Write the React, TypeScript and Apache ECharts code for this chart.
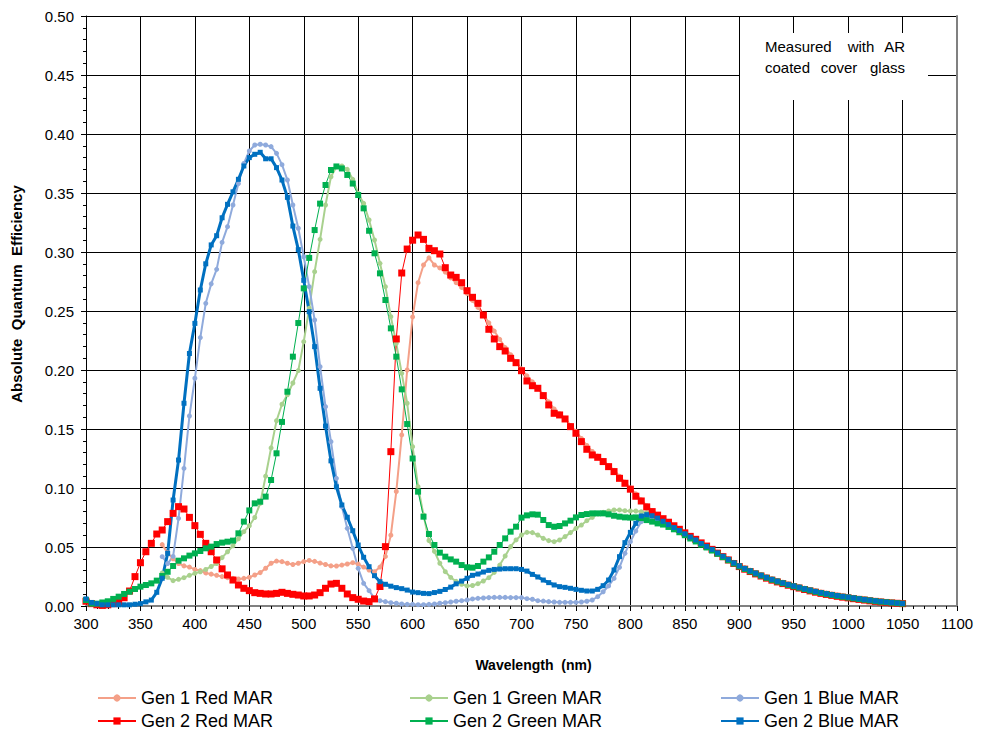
import React, { useEffect, useRef } from "react";
import * as echarts from "echarts";

const wavelengths = [
  300, 305, 310, 315, 320, 325, 330, 335, 340, 345,
  350, 355, 360, 365, 370, 375, 380, 385, 390, 395,
  400, 405, 410, 415, 420, 425, 430, 435, 440, 445,
  450, 455, 460, 465, 470, 475, 480, 485, 490, 495,
  500, 505, 510, 515, 520, 525, 530, 535, 540, 545,
  550, 555, 560, 565, 570, 575, 580, 585, 590, 595,
  600, 605, 610, 615, 620, 625, 630, 635, 640, 645,
  650, 655, 660, 665, 670, 675, 680, 685, 690, 695,
  700, 705, 710, 715, 720, 725, 730, 735, 740, 745,
  750, 755, 760, 765, 770, 775, 780, 785, 790, 795,
  800, 805, 810, 815, 820, 825, 830, 835, 840, 845,
  850, 855, 860, 865, 870, 875, 880, 885, 890, 895,
  900, 905, 910, 915, 920, 925, 930, 935, 940, 945,
  950, 955, 960, 965, 970, 975, 980, 985, 990, 995,
  1000, 1005, 1010, 1015, 1020, 1025, 1030, 1035, 1040, 1045,
  1050,
];

const N = null;

const gen1Red = [
  N, N, N, N, N, N, N, N, N, N,
  N, N, N, N, 0.052, 0.045, 0.04, 0.036, 0.034, 0.033,
  0.031, 0.03, 0.028, 0.027, 0.026, 0.0249, 0.024, 0.0234, 0.0229, 0.0234,
  0.0243, 0.0263, 0.0283, 0.032, 0.0362, 0.0381, 0.0376, 0.0362, 0.0352, 0.0362,
  0.0376, 0.0386, 0.0378, 0.0364, 0.0352, 0.034, 0.0339, 0.0347, 0.0356, 0.0367,
  0.0355, 0.033, 0.0305, 0.029, 0.033, 0.042, 0.06, 0.097, 0.145, 0.2,
  0.245, 0.274, 0.289, 0.295, 0.289, 0.2865, 0.283, 0.278, 0.274, 0.27,
  0.265, 0.259, 0.253, 0.247, 0.24, 0.233, 0.226, 0.219, 0.213, 0.207,
  0.201, 0.195, 0.19, 0.185, 0.179, 0.173, 0.167, 0.163, 0.159, 0.153,
  0.148, 0.142, 0.136, 0.131, 0.127, 0.123, 0.119, 0.115, 0.11, 0.105,
  0.1, 0.095, 0.09, 0.085, 0.081, 0.0775, 0.0745, 0.071, 0.0682, 0.0652,
  0.0622, 0.0594, 0.0567, 0.0538, 0.0511, 0.0485, 0.0455, 0.0427, 0.04, 0.037,
  0.0345, 0.0323, 0.0303, 0.0283, 0.0265, 0.0247, 0.023, 0.0215, 0.0201, 0.0187,
  0.0175, 0.0163, 0.0151, 0.0139, 0.0128, 0.0118, 0.0109, 0.0101, 0.0093, 0.0086,
  0.008, 0.0073, 0.0066, 0.006, 0.0054, 0.0048, 0.0043, 0.0038, 0.0034, 0.003,
  0.0026,
];

const gen1Green = [
  N, N, N, N, N, N, N, N, N, N,
  N, N, N, N, 0.028, 0.0243, 0.0215, 0.0226, 0.024, 0.026,
  0.0277, 0.029, 0.031, 0.0335, 0.036, 0.041, 0.046, 0.051, 0.057, 0.063,
  0.068, 0.075, 0.087, 0.11, 0.134, 0.157, 0.171, 0.179, 0.189, 0.1995,
  0.224, 0.2523, 0.2833, 0.3107, 0.3398, 0.3638, 0.3723, 0.3729, 0.37, 0.3616,
  0.3497, 0.3412, 0.3271, 0.3102, 0.2904, 0.2706, 0.2452, 0.2226, 0.1972, 0.1718,
  0.135, 0.1011, 0.0771, 0.0555, 0.0463, 0.0362, 0.0291, 0.0242, 0.0209, 0.0184,
  0.017, 0.0174, 0.0189, 0.0212, 0.024, 0.0285, 0.0347, 0.0424, 0.0503, 0.056,
  0.0602, 0.0624, 0.0622, 0.0602, 0.0573, 0.0554, 0.0545, 0.0559, 0.0588, 0.0622,
  0.0658, 0.0686, 0.0723, 0.0751, 0.078, 0.0794, 0.0805, 0.0814, 0.0814, 0.0808,
  0.0805, 0.0805, 0.0799, 0.079, 0.077, 0.075, 0.0728, 0.0702, 0.0676, 0.065,
  0.0618, 0.059, 0.0564, 0.0535, 0.0509, 0.0484, 0.0454, 0.0426, 0.0399, 0.0369,
  0.0344, 0.0322, 0.0302, 0.0282, 0.0264, 0.0246, 0.0229, 0.0214, 0.02, 0.0186,
  0.0174, 0.0162, 0.015, 0.0138, 0.0127, 0.0117, 0.0108, 0.01, 0.0092, 0.0085,
  0.0079, 0.0072, 0.0065, 0.0059, 0.0053, 0.0047, 0.0042, 0.0037, 0.0033, 0.0029,
  0.0025,
];

const gen1Blue = [
  N, N, N, N, N, N, N, N, N, N,
  N, N, N, N, 0.0418, 0.036, 0.042, 0.0743, 0.1167, 0.161,
  0.193, 0.2275, 0.2565, 0.273, 0.2853, 0.3082, 0.3215, 0.3398, 0.358, 0.375,
  0.3856, 0.3907, 0.3913, 0.3907, 0.3893, 0.3836, 0.374, 0.361, 0.3398, 0.3201,
  0.296, 0.2706, 0.2424, 0.2028, 0.1689, 0.1393, 0.1082, 0.0842, 0.0658, 0.0489,
  0.0319, 0.0192, 0.013, 0.0065, 0.0045, 0.0037, 0.0028, 0.0023, 0.0017, 0.0014,
  0.0014, 0.0011, 0.0011, 0.0014, 0.0017, 0.0023, 0.0028, 0.0034, 0.004, 0.0045,
  0.0051, 0.006, 0.0065, 0.0068, 0.0071, 0.0073, 0.0073, 0.0073, 0.0071, 0.0071,
  0.0071, 0.0062, 0.0057, 0.0045, 0.0042, 0.0037, 0.0034, 0.0031, 0.0031, 0.0031,
  0.0031, 0.0034, 0.004, 0.0051, 0.0079, 0.0121, 0.017, 0.0234, 0.0328, 0.0446,
  0.0545, 0.0635, 0.0715, 0.0745, 0.0755, 0.0745, 0.072, 0.0692, 0.0667, 0.0642,
  0.0614, 0.0587, 0.0562, 0.0532, 0.0507, 0.0482, 0.0452, 0.0424, 0.0397, 0.0367,
  0.0342, 0.032, 0.03, 0.028, 0.0262, 0.0244, 0.0227, 0.0212, 0.0198, 0.0184,
  0.0172, 0.016, 0.0148, 0.0136, 0.0125, 0.0115, 0.0106, 0.0098, 0.009, 0.0083,
  0.0077, 0.007, 0.0063, 0.0057, 0.0051, 0.0045, 0.004, 0.0035, 0.0031, 0.0027,
  0.0023,
];

const gen2Red = [
  0.004, 0.002, 0.001, 0.0005, 0.001, 0.002, 0.004, 0.007, 0.0127, 0.0249,
  0.0367, 0.046, 0.0531, 0.061, 0.0644, 0.0715, 0.0785, 0.0842, 0.0822, 0.0751,
  0.0681, 0.0607, 0.0531, 0.046, 0.039, 0.0315, 0.0263, 0.022, 0.0178, 0.015,
  0.013, 0.0113, 0.0107, 0.0102, 0.0102, 0.0107, 0.0116, 0.0107, 0.0099, 0.0093,
  0.0085, 0.0085, 0.0093, 0.0113, 0.015, 0.0186, 0.0192, 0.015, 0.0102, 0.0071,
  0.0057, 0.0042, 0.0037, 0.006, 0.0165, 0.0503, 0.1308, 0.2263, 0.2822, 0.3025,
  0.31, 0.3144, 0.3107, 0.3031, 0.3011, 0.2983, 0.2867, 0.2805, 0.2785, 0.274,
  0.2672, 0.2616, 0.2565, 0.2466, 0.2345, 0.2263, 0.2198, 0.2161, 0.2099, 0.2062,
  0.1994, 0.1907, 0.1867, 0.1845, 0.1783, 0.1704, 0.1633, 0.1619, 0.1585, 0.152,
  0.1464, 0.1393, 0.1328, 0.128, 0.126, 0.1224, 0.1181, 0.1139, 0.1082, 0.104,
  0.099, 0.093, 0.089, 0.084, 0.08, 0.077, 0.074, 0.071, 0.068, 0.065,
  0.062, 0.059, 0.0565, 0.0535, 0.0508, 0.048, 0.0448, 0.0418, 0.039, 0.036,
  0.0334, 0.0312, 0.0292, 0.0272, 0.0254, 0.0236, 0.0219, 0.0204, 0.019, 0.0176,
  0.0164, 0.0152, 0.014, 0.0128, 0.0117, 0.0107, 0.0098, 0.009, 0.0082, 0.0075,
  0.0069, 0.0062, 0.0056, 0.005, 0.0044, 0.0039, 0.0034, 0.003, 0.0026, 0.0023,
  0.002,
];

const gen2Green = [
  0.005, 0.002, 0.002, 0.003, 0.004, 0.006, 0.0079, 0.0102, 0.0121, 0.0144,
  0.0164, 0.0178, 0.0192, 0.0215, 0.0254, 0.029, 0.0339, 0.0384, 0.0404, 0.0427,
  0.0446, 0.0466, 0.0489, 0.0503, 0.0525, 0.0537, 0.0545, 0.0554, 0.0616, 0.0715,
  0.081, 0.087, 0.0884, 0.0927, 0.1068, 0.1294, 0.156, 0.1816, 0.2113, 0.2398,
  0.2692, 0.295, 0.3186, 0.341, 0.3568, 0.3695, 0.3725, 0.3708, 0.3653, 0.358,
  0.3483, 0.337, 0.318, 0.2989, 0.2819, 0.2593, 0.2353, 0.2113, 0.1836, 0.1542,
  0.125, 0.0969, 0.0757, 0.061, 0.0517, 0.0452, 0.0418, 0.0395, 0.0376, 0.0347,
  0.0328, 0.0325, 0.0339, 0.0376, 0.0412, 0.046, 0.0517, 0.0573, 0.063, 0.0672,
  0.0749, 0.0768, 0.0777, 0.0774, 0.0729, 0.0686, 0.0672, 0.0678, 0.07, 0.0723,
  0.0751, 0.0771, 0.0779, 0.0785, 0.0785, 0.0785, 0.0777, 0.0765, 0.0757, 0.0751,
  0.0749, 0.0751, 0.0745, 0.0728, 0.0715, 0.07, 0.069, 0.067, 0.065, 0.0625,
  0.06, 0.0572, 0.0547, 0.052, 0.0496, 0.047, 0.0442, 0.0414, 0.0388, 0.036,
  0.0335, 0.0314, 0.0294, 0.0275, 0.0257, 0.0239, 0.0222, 0.0207, 0.0193, 0.0179,
  0.0167, 0.0155, 0.0143, 0.0131, 0.012, 0.011, 0.0101, 0.0093, 0.0085, 0.0078,
  0.0072, 0.0065, 0.0059, 0.0053, 0.0047, 0.0041, 0.0036, 0.0032, 0.0028, 0.0024,
  0.002,
];

const gen2Blue = [
  0.006, 0.003, 0.002, 0.001, 0.001, 0.001, 0.001, 0.001, 0.001, 0.0015,
  0.002, 0.0035, 0.005, 0.0116, 0.0235, 0.0446, 0.0898, 0.1237, 0.1718, 0.214,
  0.2395, 0.2678, 0.29, 0.306, 0.3138, 0.329, 0.3404, 0.351, 0.3616, 0.3729,
  0.38, 0.3828, 0.3845, 0.379, 0.379, 0.3715, 0.361, 0.3463, 0.322, 0.302,
  0.276, 0.2494, 0.2198, 0.1845, 0.1525, 0.123, 0.101, 0.0856, 0.0752, 0.0638,
  0.0517, 0.0413, 0.0333, 0.0257, 0.0206, 0.0184, 0.0168, 0.0156, 0.0147, 0.0135,
  0.0118, 0.0113, 0.0107, 0.0105, 0.0114, 0.0124, 0.014, 0.016, 0.0188, 0.0211,
  0.0235, 0.026, 0.0271, 0.0288, 0.0302, 0.031, 0.0313, 0.0316, 0.0316, 0.0316,
  0.031, 0.0296, 0.0268, 0.0246, 0.022, 0.0198, 0.0178, 0.0164, 0.0158, 0.015,
  0.0141, 0.0133, 0.0127, 0.0127, 0.0141, 0.0172, 0.022, 0.0305, 0.0418, 0.0537,
  0.0624, 0.07, 0.0763, 0.0774, 0.0765, 0.0745, 0.0718, 0.069, 0.0665, 0.064,
  0.0612, 0.0585, 0.056, 0.053, 0.0505, 0.048, 0.045, 0.0422, 0.0395, 0.0365,
  0.034, 0.0318, 0.0298, 0.0278, 0.026, 0.0242, 0.0225, 0.021, 0.0196, 0.0182,
  0.017, 0.0158, 0.0146, 0.0134, 0.0123, 0.0113, 0.0104, 0.0096, 0.0088, 0.0081,
  0.0075, 0.0068, 0.0061, 0.0055, 0.0049, 0.0043, 0.0038, 0.0033, 0.0029, 0.0025,
  0.0021,
];

const FONT = "'Liberation Sans', Arial, sans-serif";

const seriesDefs = [
  { name: "Gen 1 Red MAR", values: gen1Red, color: "#F4A088", symbol: "circle", symbolSize: 5, width: 2 },
  { name: "Gen 1 Green MAR", values: gen1Green, color: "#A9D18E", symbol: "circle", symbolSize: 5, width: 2 },
  { name: "Gen 1 Blue MAR", values: gen1Blue, color: "#8FAADC", symbol: "circle", symbolSize: 5, width: 2 },
  { name: "Gen 2 Red MAR", values: gen2Red, color: "#FF0000", symbol: "rect", symbolSize: 7, width: 1 },
  { name: "Gen 2 Green MAR", values: gen2Green, color: "#00B050", symbol: "rect", symbolSize: 6, width: 1 },
  { name: "Gen 2 Blue MAR", values: gen2Blue, color: "#0070C0", symbol: "rect", symbolSize: 5, width: 3 },
];

const noteLines = [
  ["Measured", "with", "AR"],
  ["coated", "cover", "glass"],
];

function toPairs(values: (number | null)[]) {
  const out: [number, number][] = [];
  wavelengths.forEach((w, i) => {
    const v = values[i];
    if (v !== null && v !== undefined) out.push([w, v]);
  });
  return out;
}

export default function App() {
  const ref = useRef<HTMLDivElement>(null);

  useEffect(() => {
    if (!ref.current) return;
    const chart = echarts.init(ref.current, null, { renderer: "svg" });

    const legendCol = (names: string[], left: number) => ({
      data: names,
      orient: "vertical",
      left,
      top: 689,
      padding: 0,
      itemWidth: 38,
      itemHeight: 9,
      itemGap: 5,
      selectedMode: false,
      textStyle: { fontSize: 18, color: "#000", fontFamily: FONT },
    });

    // justified note text, one element per word (left, centre, right)
    const noteLeft = 765;
    const noteRight = 905;
    const noteGraphics: any[] = [];
    noteLines.forEach((words, li) => {
      const y = 46 + li * 21;
      words.forEach((w, wi) => {
        const align = wi === 0 ? "left" : wi === words.length - 1 ? "right" : "center";
        const x = wi === 0 ? noteLeft : wi === words.length - 1 ? noteRight : (li === 0 ? 861 : 839);
        noteGraphics.push({
          type: "text",
          z: 101,
          x,
          y,
          style: {
            text: w,
            align,
            verticalAlign: "middle",
            fontSize: 15,
            fontFamily: FONT,
            fill: "#000",
          },
        });
      });
    });

    const option = {
      animation: false,
      backgroundColor: "#fff",
      textStyle: { fontFamily: FONT },
      grid: { left: 86, right: 29, top: 16, bottom: 139, containLabel: false },
      xAxis: [
        {
          type: "value",
          min: 300,
          max: 1100,
          interval: 50,
          axisLine: { show: true, onZero: false, lineStyle: { color: "#000", width: 1 } },
          axisTick: { show: true, length: 5, lineStyle: { color: "#000" } },
          minorTick: { show: true, splitNumber: 5, length: 3, lineStyle: { color: "#000" } },
          splitLine: { show: true, lineStyle: { color: "#000", width: 1 } },
          axisLabel: {
            color: "#000",
            fontSize: 15,
            fontFamily: FONT,
            margin: 10,
            formatter: (v: number) => String(v),
          },
          name: "Wavelength  (nm)",
          nameLocation: "middle",
          nameGap: 52,
          nameTextStyle: { color: "#000", fontSize: 14, fontWeight: "bold", fontFamily: FONT, padding: [0, 0, 0, 24] },
        },
        {
          type: "value",
          position: "top",
          min: 300,
          max: 1100,
          interval: 50,
          axisLine: { show: true, lineStyle: { color: "#808080", width: 2 } },
          axisTick: { show: false },
          axisLabel: { show: false },
          splitLine: { show: false },
        },
      ],
      yAxis: [
        {
          type: "value",
          min: 0,
          max: 0.5,
          interval: 0.05,
          axisLine: { show: true, onZero: false, lineStyle: { color: "#000", width: 1 } },
          axisTick: { show: true, length: 5, lineStyle: { color: "#000" } },
          minorTick: { show: true, splitNumber: 5, length: 3, lineStyle: { color: "#000" } },
          splitLine: { show: true, lineStyle: { color: "#000", width: 1 } },
          axisLabel: {
            color: "#000",
            fontSize: 15,
            fontFamily: FONT,
            margin: 12,
            formatter: (v: number) => v.toFixed(2),
          },
          name: "Absolute  Quantum  Efficiency",
          nameLocation: "middle",
          nameGap: 62,
          nameRotate: 90,
          nameTextStyle: { color: "#000", fontSize: 15, fontWeight: "bold", fontFamily: FONT, padding: [0, 0, 0, 34] },
        },
        {
          type: "value",
          position: "right",
          min: 0,
          max: 0.5,
          interval: 0.05,
          axisLine: { show: true, lineStyle: { color: "#808080", width: 2 } },
          axisTick: { show: false },
          axisLabel: { show: false },
          splitLine: { show: false },
        },
      ],
      legend: [
        legendCol(["Gen 1 Red MAR", "Gen 2 Red MAR"], 97),
        legendCol(["Gen 1 Green MAR", "Gen 2 Green MAR"], 409),
        legendCol(["Gen 1 Blue MAR", "Gen 2 Blue MAR"], 720),
      ],
      graphic: [
        {
          type: "rect",
          z: 100,
          shape: { x: 740, y: 33, width: 188, height: 67 },
          style: { fill: "#fff" },
        },
        ...noteGraphics,
      ],
      series: seriesDefs.map((s) => ({
        name: s.name,
        type: "line",
        data: toPairs(s.values),
        symbol: s.symbol,
        symbolSize: s.symbolSize,
        showSymbol: true,
        showAllSymbol: true,
        lineStyle: { color: s.color, width: s.width },
        itemStyle: { color: s.color, borderWidth: 0 },
        emphasis: { disabled: true },
        silent: true,
      })),
    };

    chart.setOption(option as any);
    return () => chart.dispose();
  }, []);

  return (
    <div
      ref={ref}
      style={{ position: "fixed", left: 0, top: 0, width: 986, height: 745 }}
    />
  );
}
